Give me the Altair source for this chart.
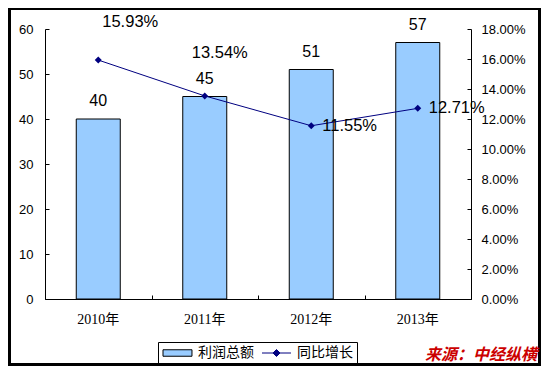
import altair as alt
import pandas as pd

# ---- data ----
years = ["2010年", "2011年", "2012年", "2013年"]
profit = [40, 45, 51, 57]
growth = [0.1593, 0.1354, 0.1155, 0.1271]
series_names = ["利润总额", "同比增长"]
left_ticks = [0, 10, 20, 30, 40, 50, 60]
right_ticks = [0.0, 0.02, 0.04, 0.06, 0.08, 0.10, 0.12, 0.14, 0.16, 0.18]
source_text = ["来源：中经纵横"]

BAR_FILL = "#99CCFF"
LINE_COLOR = "#000080"
W, H = 426, 270
PAD = {"left": 37, "top": 21, "right": 70, "bottom": 67}

df = pd.DataFrame({"year": years, "profit": profit, "growth": growth})
leg_df = pd.DataFrame({"series": series_names})
src_df = pd.DataFrame({"src": source_text})
one_df = pd.DataFrame({"k": [0]})

x_scale = alt.Scale(domain=years, paddingInner=0, paddingOuter=0)
yl_scale = alt.Scale(domain=[0, 60], nice=False)
yr_scale = alt.Scale(domain=[0, 0.18], nice=False)

x_bottom = alt.X(
    "year:N", sort=years, scale=x_scale,
    axis=alt.Axis(title=None, orient="bottom", labelAngle=0, ticks=False, tickSize=0,
                  domainColor="black", labelColor="black",
                  labelFont="Liberation Serif, Noto Sans CJK SC", labelFontSize=14,
                  labelPadding=13, zindex=1),
)
x_top = alt.X(
    "year:N", sort=years, scale=x_scale,
    axis=alt.Axis(title=None, orient="top", offset=-H, labels=False, domain=False,
                  ticks=True, tickSize=4, tickColor="black", tickBand="extent", zindex=1),
)

y_left = alt.Y(
    "profit:Q", scale=yl_scale,
    axis=alt.Axis(title=None, values=left_ticks, ticks=False, tickSize=0, labelPadding=12,
                  labelFont="Liberation Sans", labelFontSize=13, labelColor="black",
                  domainColor="black", zindex=1),
)
y_left_ticks = alt.Y(
    "profit:Q", scale=yl_scale,
    axis=alt.Axis(title=None, orient="right", offset=-W, values=left_ticks, labels=False,
                  domain=False, ticks=True, tickSize=4, tickColor="black", zindex=1),
)
y_right = alt.Y(
    "growth:Q", scale=yr_scale,
    axis=alt.Axis(title=None, orient="right", values=right_ticks, format=".2%", ticks=False,
                  tickSize=0, labelPadding=10, labelFont="Liberation Sans", labelFontSize=13,
                  labelColor="black", domainColor="black", zindex=1),
)
y_right_ticks = alt.Y(
    "growth:Q", scale=yr_scale,
    axis=alt.Axis(title=None, orient="left", offset=-W, values=right_ticks, labels=False,
                  domain=False, ticks=True, tickSize=4, tickColor="black", zindex=1),
)

# white chart area inside the black frame
frame = alt.Chart(one_df).mark_rect(fill="white").encode(
    x=alt.value(-PAD["left"] + 3), x2=alt.value(W + PAD["right"] - 3),
    y=alt.value(-PAD["top"] + 2), y2=alt.value(H + PAD["bottom"] - 3),
)

# legend: one combined legend from fill / stroke / shape on the same field
rect_path = "M-1,-0.54H3.83V0.54H-1Z"
line_path = "M-1,0H3.83M1.42,-0.58L2,0L1.42,0.58L0.83,0Z"
legend = alt.Legend(
    title=None, orient="none", legendX=113, legendY=313, direction="horizontal",
    strokeColor="black", padding=4, symbolSize=144, symbolStrokeWidth=1, symbolOpacity=1,
    labelOffset=22, columnPadding=6,
    labelFont="Noto Sans CJK SC", labelFontSize=14, labelColor="black",
    labelExpr=f"datum.label === '{series_names[1]}' ? datum.label + '\u3000' : datum.label",
)
legend_marks = alt.Chart(leg_df).mark_point(filled=True, size=0).encode(
    fill=alt.Fill("series:N", scale=alt.Scale(domain=series_names, range=[BAR_FILL, LINE_COLOR]),
                  legend=legend),
    stroke=alt.Stroke("series:N", scale=alt.Scale(domain=series_names, range=["black", LINE_COLOR]),
                      legend=legend),
    shape=alt.Shape("series:N", scale=alt.Scale(domain=series_names, range=[rect_path, line_path]),
                    legend=legend),
)

bars = alt.Chart(df).mark_bar(
    size=44, fill=BAR_FILL, stroke="black", strokeWidth=1
).encode(x=x_bottom, y=y_left)
bar_text = alt.Chart(df).mark_text(
    dy=-18, baseline="middle", fontSize=16, font="Liberation Sans", color="black"
).encode(x=x_bottom, y=y_left, text="profit:Q")
bar_ticks = alt.Chart(df).mark_point(size=0).encode(x=x_bottom, y=y_left_ticks)

bar_group = alt.layer(alt.layer(bars, bar_text), bar_ticks).resolve_axis(y="independent")

line = alt.Chart(df).mark_line(strokeWidth=1, color=LINE_COLOR).encode(x=x_top, y=y_right)
points = alt.Chart(df).mark_point(
    shape="diamond", filled=True, size=49, color=LINE_COLOR, opacity=1
).encode(x=x_top, y=y_right)


def growth_label(sel, **kw):
    return alt.Chart(df).transform_filter(
        alt.FieldOneOfPredicate(field="year", oneOf=sel)
    ).mark_text(baseline="middle", fontSize=16.5, font="Liberation Sans", color="black", **kw).encode(
        x=x_top, y=y_right, text=alt.Text("growth:Q", format=".2%")
    )


lab1 = growth_label([years[0]], align="center", dx=32, dy=-38)
lab2 = growth_label([years[1]], align="center", dx=15, dy=-43)
lab3 = growth_label([years[2], years[3]], align="left", dx=11, dy=0)
line_ticks = alt.Chart(df).mark_point(size=0).encode(x=x_top, y=y_right_ticks)

line_group = alt.layer(
    alt.layer(line, points, lab1, lab2, lab3), line_ticks
).resolve_axis(y="independent")

src = alt.Chart(src_df).mark_text(
    align="right", baseline="middle", fontSize=16, fontWeight="bold", fontStyle="italic",
    color="#CC0000", font="Noto Sans CJK SC"
).encode(x=alt.value(W + PAD["right"] - 4), y=alt.value(326), text="src:N")

chart = alt.layer(frame, bar_group, line_group, legend_marks, src).resolve_scale(
    y="independent"
).resolve_axis(
    x="independent", y="independent"
).properties(
    width=W, height=H,
    padding=PAD,
    autosize=alt.AutoSizeParams(type="none"),
    background="black",
).configure_view(stroke="#808080", strokeWidth=1).configure_axis(grid=False)

chart.save("out.html", embed_options={"renderer": "svg", "actions": False})
